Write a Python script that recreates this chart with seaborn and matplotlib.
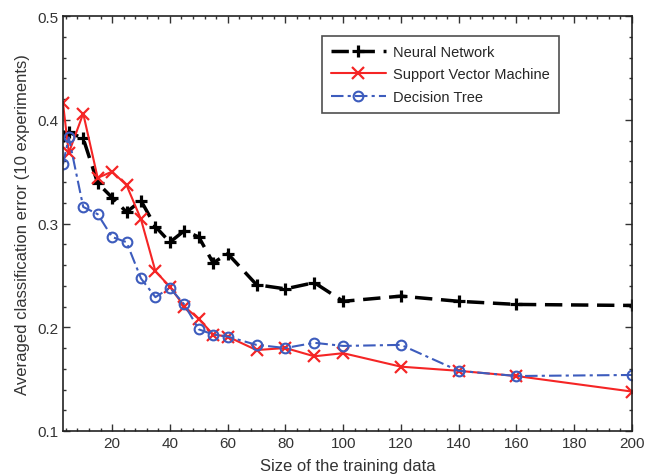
import matplotlib
matplotlib.use("Agg")
import matplotlib.pyplot as plt
import seaborn as sns
import numpy as np
from matplotlib.ticker import MultipleLocator

train_size = [3, 5, 10, 15, 20, 25, 30, 35, 40, 45, 50, 55, 60, 70, 80, 90, 100, 120, 140, 160, 200]
neural_network = [0.384, 0.388, 0.382, 0.339, 0.325, 0.311, 0.322, 0.297, 0.282, 0.293, 0.287,
                  0.262, 0.271, 0.241, 0.237, 0.243, 0.225, 0.230, 0.225, 0.222, 0.221]
svm = [0.416, 0.368, 0.406, 0.344, 0.350, 0.337, 0.304, 0.254, 0.239, 0.220, 0.208,
       0.193, 0.191, 0.178, 0.180, 0.172, 0.175, 0.162, 0.158, 0.153, 0.138]
decision_tree = [0.357, 0.383, 0.316, 0.309, 0.287, 0.282, 0.247, 0.229, 0.238, 0.222, 0.198,
                 0.193, 0.191, 0.183, 0.180, 0.185, 0.182, 0.183, 0.158, 0.153, 0.154]

sns.set_style("ticks")
plt.rcParams['font.family'] = ['Liberation Sans', 'DejaVu Sans']
plt.rcParams['xtick.direction'] = 'in'
plt.rcParams['ytick.direction'] = 'in'

fig = plt.figure(figsize=(6.57, 4.77), dpi=100)
ax = fig.add_axes([63/657, 1-432/477, (632-63)/657, (432-17)/477])

BLUE = '#3d5cbd'
RED = '#f52525'

def style_last(ax, marker, size, mew, mec, mfc):
    ln = ax.lines[-1]
    ln.set_marker(marker)
    ln.set_markersize(size)
    ln.set_markeredgewidth(mew)
    ln.set_markeredgecolor(mec)
    ln.set_markerfacecolor(mfc)

sns.lineplot(x=train_size, y=neural_network, ax=ax, color='black', linestyle=(0, (5, 2.5)),
             linewidth=2.5, label='Neural Network')
style_last(ax, '+', 8, 2.3, 'black', 'black')
sns.lineplot(x=train_size, y=svm, ax=ax, color=RED, linestyle='-', linewidth=1.5,
             label='Support Vector Machine')
style_last(ax, 'x', 8, 1.6, RED, RED)
sns.lineplot(x=train_size, y=decision_tree, ax=ax, color=BLUE, linestyle=(0, (6, 2, 1.5, 2)),
             linewidth=1.5, label='Decision Tree')
style_last(ax, 'o', 7, 1.5, BLUE, 'none')

ax.set_xlim(3, 200)
ax.set_ylim(0.1, 0.5)
ax.set_xticks([20, 40, 60, 80, 100, 120, 140, 160, 180, 200])
ax.set_yticks([0.1, 0.2, 0.3, 0.4, 0.5])
ax.set_yticklabels(['0.1', '0.2', '0.3', '0.4', '0.5'])
ax.xaxis.set_minor_locator(MultipleLocator(4))
ax.yaxis.set_minor_locator(MultipleLocator(0.02))
ax.tick_params(which='both', top=True, right=True, direction='in', labelsize=11, colors='#333333')
ax.tick_params(which='major', length=5, width=1)
ax.tick_params(which='minor', length=2.5, width=1)
for s in ax.spines.values():
    s.set_linewidth(1.2)
    s.set_color('#222222')
ax.set_xlabel('Size of the training data', fontsize=12, color='#333333', labelpad=6)
ax.set_ylabel('Averaged classification error (10 experiments)', fontsize=12, color='#333333', labelpad=5)

leg = ax.legend(loc='upper left', bbox_to_anchor=(0.455, 0.952), borderaxespad=0,
                fontsize=10.5, frameon=True, fancybox=False, handlelength=3.8,
                borderpad=0.6, labelspacing=0.6, handletextpad=0.5)
leg.get_frame().set_edgecolor('#222222')
leg.get_frame().set_linewidth(1.2)

fig.savefig('out.png', dpi=100)
